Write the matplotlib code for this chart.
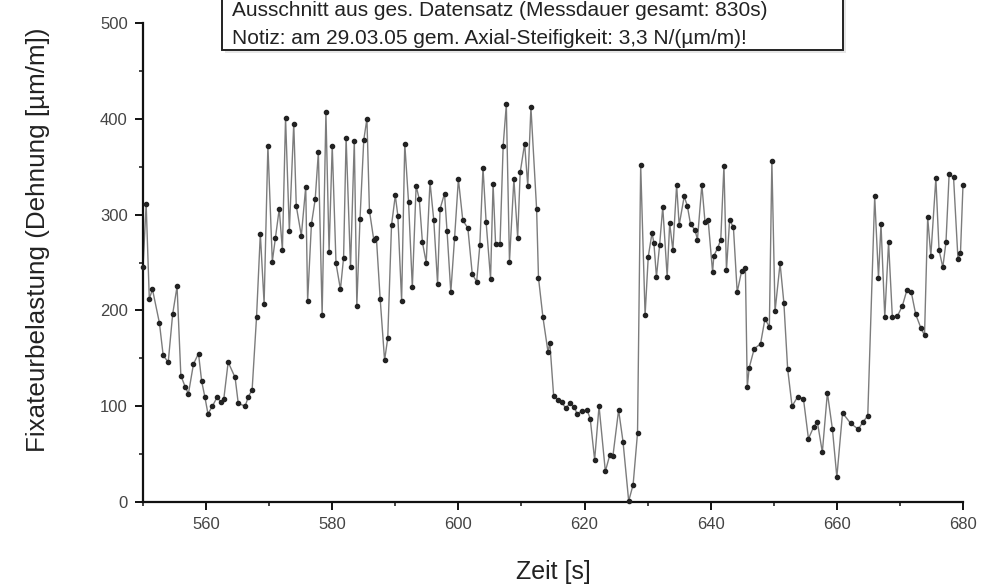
import matplotlib
matplotlib.use("Agg")
import matplotlib.pyplot as plt
import matplotlib.patches as patches
from matplotlib.ticker import MultipleLocator

plt.rcParams['font.family'] = ['Liberation Sans', 'DejaVu Sans']

# Zeit [s] und Dehnung [µm/m]
zeit = [
    550.0, 550.5, 551.0, 551.5, 552.6, 553.2, 554.0, 554.7, 555.4, 556.0,
    556.7, 557.2, 558.0, 558.8, 559.3, 559.8, 560.3, 561.0, 561.8, 562.3,
    562.8, 563.5, 564.6, 565.1, 566.2, 566.7, 567.3, 568.0, 568.6, 569.2,
    569.8, 570.5, 571.0, 571.6, 572.1, 572.6, 573.2, 573.9, 574.3, 575.1,
    575.8, 576.1, 576.7, 577.3, 577.8, 578.4, 579.0, 579.5, 580.0, 580.6,
    581.3, 581.8, 582.2, 582.9, 583.5, 583.9, 584.4, 585.0, 585.5, 585.9,
    586.6, 587.0, 587.6, 588.3, 588.8, 589.4, 590.0, 590.4, 591.0, 591.5,
    592.1, 592.7, 593.3, 593.8, 594.3, 594.9, 595.5, 596.1, 596.7, 597.1,
    597.8, 598.2, 598.8, 599.4, 600.0, 600.7, 601.5, 602.2, 602.9, 603.4,
    603.9, 604.4, 605.1, 605.5, 605.9, 606.6, 607.1, 607.6, 608.1, 608.8,
    609.4, 609.8, 610.5, 611.0, 611.5, 612.4, 612.7, 613.4, 614.2, 614.5,
    615.1, 615.8, 616.4, 617.0, 617.7, 618.4, 618.8, 619.6, 620.4, 620.9,
    621.6, 622.3, 623.3, 624.0, 624.5, 625.4, 626.1, 627.0, 627.7, 628.4,
    628.9, 629.6, 630.1, 630.7, 631.0, 631.4, 631.9, 632.4, 633.1, 633.5,
    634.0, 634.6, 635.0, 635.8, 636.3, 636.8, 637.5, 637.9, 638.6, 639.1,
    639.6, 640.3, 640.5, 641.1, 641.6, 642.1, 642.5, 643.0, 643.6, 644.2,
    644.9, 645.5, 645.8, 646.1, 646.9, 647.9, 648.6, 649.3, 649.7, 650.2,
    651.0, 651.6, 652.2, 652.9, 653.8, 654.7, 655.5, 656.3, 656.9, 657.7,
    658.5, 659.3, 660.0, 660.9, 662.2, 663.4, 664.2, 664.9, 666.0, 666.6,
    667.0, 667.6, 668.2, 668.8, 669.6, 670.4, 671.1, 671.8, 672.5, 673.3,
    673.9, 674.4, 674.9, 675.7, 676.2, 676.8, 677.3, 677.8, 678.5, 679.2,
    679.6, 680.0,
]
dehnung = [
    245, 311, 212, 222, 187, 153, 146, 196, 225, 132,
    120, 113, 144, 155, 126, 110, 92, 100, 110, 104,
    107, 146, 130, 103, 100, 110, 117, 193, 280, 207,
    372, 251, 276, 306, 263, 401, 283, 395, 309, 278,
    329, 210, 290, 316, 365, 195, 407, 261, 372, 249,
    222, 255, 380, 245, 377, 205, 295, 378, 400, 304,
    273, 276, 212, 148, 171, 289, 320, 299, 210, 374,
    313, 224, 330, 316, 271, 250, 334, 294, 228, 306,
    322, 283, 219, 276, 337, 294, 286, 238, 230, 268,
    349, 292, 233, 332, 269, 269, 372, 415, 251, 337,
    276, 344, 374, 330, 412, 306, 234, 193, 157, 166,
    111, 106, 104, 98, 103, 99, 92, 95, 96, 87,
    44, 100, 32, 49, 48, 96, 63, 1, 18, 72,
    352, 195, 256, 281, 270, 235, 268, 308, 235, 291,
    263, 331, 289, 319, 309, 290, 284, 274, 331, 292,
    294, 240, 257, 265, 274, 351, 242, 294, 287, 219,
    241, 244, 120, 140, 160, 165, 191, 183, 356, 199,
    249, 208, 139, 100, 110, 108, 66, 78, 84, 52,
    114, 76, 26, 93, 82, 76, 84, 90, 319, 234,
    290, 193, 271, 193, 194, 205, 221, 219, 196, 182,
    174, 297, 257, 338, 263, 245, 271, 342, 339, 254,
    260, 331,
]

zeile1 = "Ausschnitt aus ges. Datensatz (Messdauer gesamt: 830s)"
zeile2 = "Notiz: am 29.03.05 gem. Axial-Steifigkeit: 3,3 N/(µm/m)!"

W, H = 991, 587
fig = plt.figure(figsize=(W / 100, H / 100), dpi=100)
ax = fig.add_axes([143 / W, 1 - 502 / H, (963 - 143) / W, (502 - 23) / H])

ax.plot(zeit, dehnung, color="#7c7c7c", linewidth=1.0, zorder=2, clip_on=False)
ax.plot(zeit, dehnung, linestyle="none", marker="o", markersize=3.0,
        color="#222222", zorder=3, clip_on=False)

ax.set_xlim(550, 680)
ax.set_ylim(0, 500)
ax.xaxis.set_major_locator(MultipleLocator(20))
ax.xaxis.set_minor_locator(MultipleLocator(10))
ax.yaxis.set_major_locator(MultipleLocator(100))
ax.yaxis.set_minor_locator(MultipleLocator(50))
ax.set_xticks([560, 580, 600, 620, 640, 660, 680])

for s in ["top", "right"]:
    ax.spines[s].set_visible(False)
for s in ["left", "bottom"]:
    ax.spines[s].set_linewidth(1.6)
    ax.spines[s].set_color("#111111")

ax.tick_params(which="major", direction="out", length=6, width=1.4,
               labelsize=12, colors="#111111", labelcolor="#444444", pad=5)
ax.tick_params(which="minor", direction="out", length=3, width=1.1,
               colors="#111111")

ax.set_xlabel("Zeit [s]", fontsize=18, color="#222222", labelpad=20)
ax.set_ylabel("Fixateurbelastung (Dehnung [µm/m])", fontsize=18.7,
              color="#222222")
ax.yaxis.set_label_coords(-0.113, 0.547)

# Notiz-Kasten oben (oberer Rand außerhalb des Bildes)
schatten = patches.Rectangle((225 / W, 1 - 53 / H), (843 - 222) / W, 70 / H,
                             transform=fig.transFigure, facecolor="#e6e6e6",
                             edgecolor="none", zorder=0)
kasten = patches.Rectangle((222 / W, 1 - 50 / H), (843 - 222) / W, 70 / H,
                           transform=fig.transFigure, facecolor="white",
                           edgecolor="#222222", linewidth=1.4, zorder=1)
fig.patches.extend([schatten, kasten])
fig.text(232 / W, 1 - 10 / H, zeile1, fontsize=15, color="#222222",
         va="center", ha="left")
fig.text(232 / W, 1 - 39 / H, zeile2, fontsize=15, color="#222222",
         va="center", ha="left")

fig.savefig("out.png", dpi=100)
